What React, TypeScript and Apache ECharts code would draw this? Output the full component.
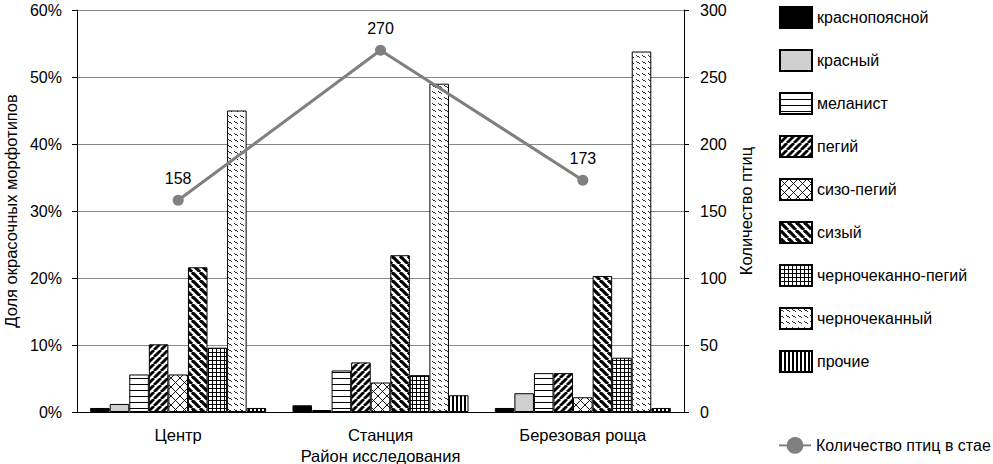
import React, { useEffect, useRef } from "react";
import * as echarts from "echarts";

const categories = ["Центр", "Станция", "Березовая роща"];
const morphNames = [
  "краснопоясной",
  "красный",
  "меланист",
  "пегий",
  "сизо-пегий",
  "сизый",
  "черночеканно-пегий",
  "черночеканный",
  "прочие",
];
const krasnopoyasnoy = [0.6, 1.0, 0.6];
const krasny = [1.2, 0.3, 2.8];
const melanist = [5.6, 6.2, 5.8];
const pegiy = [10.1, 7.4, 5.8];
const sizoPegiy = [5.6, 4.4, 2.2];
const sizy = [21.6, 23.4, 20.3];
const chernochekPegiy = [9.6, 5.5, 8.1];
const chernochek = [45.0, 49.0, 53.8];
const prochie = [0.6, 2.5, 0.6];
const morphValues = [
  krasnopoyasnoy,
  krasny,
  melanist,
  pegiy,
  sizoPegiy,
  sizy,
  chernochekPegiy,
  chernochek,
  prochie,
];
const flockName = "Количество птиц в стае";
const flockSize = [158, 270, 173];

const FONT = "Liberation Sans, Arial, sans-serif";

function makePattern(w: number, h: number, draw: (ctx: CanvasRenderingContext2D) => void) {
  const c = document.createElement("canvas");
  c.width = w;
  c.height = h;
  const ctx = c.getContext("2d") as CanvasRenderingContext2D;
  ctx.fillStyle = "#ffffff";
  ctx.fillRect(0, 0, w, h);
  ctx.fillStyle = "#000000";
  ctx.strokeStyle = "#000000";
  draw(ctx);
  return { image: c, repeat: "repeat", imageWidth: w, imageHeight: h };
}

function buildFills(): any[] {
  const horiz = makePattern(6, 6, (ctx) => ctx.fillRect(0, 0, 6, 1));
  const up = makePattern(7, 7, (ctx) => {
    ctx.lineWidth = 2.8;
    for (let k = -1; k <= 1; k++) {
      ctx.beginPath();
      ctx.moveTo(k * 7, 7);
      ctx.lineTo(k * 7 + 7, 0);
      ctx.stroke();
    }
  });
  const cross = makePattern(9, 9, (ctx) => {
    ctx.lineWidth = 0.9;
    for (let k = -1; k <= 1; k++) {
      ctx.beginPath();
      ctx.moveTo(k * 9, 9);
      ctx.lineTo(k * 9 + 9, 0);
      ctx.stroke();
      ctx.beginPath();
      ctx.moveTo(k * 9, 0);
      ctx.lineTo(k * 9 + 9, 9);
      ctx.stroke();
    }
  });
  const down = makePattern(8, 8, (ctx) => {
    ctx.lineWidth = 3.2;
    for (let k = -1; k <= 1; k++) {
      ctx.beginPath();
      ctx.moveTo(k * 8, 0);
      ctx.lineTo(k * 8 + 8, 8);
      ctx.stroke();
    }
  });
  const grid = makePattern(4, 4, (ctx) => {
    ctx.fillRect(0, 0, 4, 1);
    ctx.fillRect(0, 0, 1, 4);
  });
  const wave = makePattern(6, 6, (ctx) => {
    ctx.fillStyle = "#333333";
    ctx.fillRect(0, 1, 1, 1);
    ctx.fillRect(1, 2, 1, 1);
    ctx.fillRect(2, 2, 1, 1);
    ctx.fillRect(3, 3, 1, 1);
  });
  const vert = makePattern(4, 4, (ctx) => ctx.fillRect(0, 0, 2, 4));
  return ["#000000", "#d0d0d0", horiz, up, cross, down, grid, wave, vert];
}

export default function App() {
  const ref = useRef<HTMLDivElement>(null);
  useEffect(() => {
    if (!ref.current) return;
    const chart = echarts.init(ref.current, undefined, { renderer: "svg" });
    const fills = buildFills();
    const barSeries = morphNames.map((name, i) => ({
      name,
      type: "bar",
      yAxisIndex: 0,
      barGap: "0%",
      barCategoryGap: "13%",
      data: morphValues[i],
      itemStyle: { color: fills[i], borderColor: "#000", borderWidth: 1 },
      emphasis: { disabled: true },
    }));
    chart.setOption({
      animation: false,
      textStyle: { fontFamily: FONT },
      grid: { left: 77, right: 309, top: 10, bottom: 52, outerBoundsMode: "none", containLabel: false },
      legend: [
        {
          data: morphNames,
          orient: "vertical",
          left: 774,
          top: 1,
          itemWidth: 32,
          itemHeight: 21,
          itemGap: 20,
          icon: "rect",
          textStyle: { fontSize: 16, color: "#000", fontFamily: FONT },
          selectedMode: false,
        },
        {
          data: [flockName],
          orient: "vertical",
          left: 773,
          top: 432,
          itemWidth: 32,
          itemHeight: 21,
          textStyle: { fontSize: 16, color: "#000", fontFamily: FONT },
          selectedMode: false,
        },
      ],
      xAxis: {
        type: "category",
        data: categories,
        name: "Район исследования",
        nameLocation: "middle",
        nameGap: 35,
        nameTextStyle: { fontSize: 16.5, color: "#000", fontFamily: FONT },
        axisLine: { lineStyle: { color: "#000", width: 1 } },
        axisTick: { length: 5, lineStyle: { color: "#000" } },
        axisLabel: { fontSize: 16.5, color: "#000", margin: 14, fontFamily: FONT },
      },
      yAxis: [
        {
          type: "value",
          min: 0,
          max: 60,
          interval: 10,
          name: "Доля окрасочных морфотипов",
          nameLocation: "middle",
          nameRotate: 90,
          nameGap: 58,
          nameTextStyle: { fontSize: 16.5, color: "#000", fontFamily: FONT },
          axisLine: { show: true, lineStyle: { color: "#000" } },
          axisTick: { show: true, length: 5, lineStyle: { color: "#000" } },
          axisLabel: { formatter: "{value}%", fontSize: 16, color: "#000", margin: 15, fontFamily: FONT },
          splitLine: { show: true, lineStyle: { color: "#888888", width: 1 } },
        },
        {
          type: "value",
          min: 0,
          max: 300,
          interval: 50,
          name: "Количество птиц",
          nameLocation: "middle",
          nameRotate: 90,
          nameGap: 43,
          nameTextStyle: { fontSize: 16.5, color: "#000", fontFamily: FONT },
          axisLine: { show: true, lineStyle: { color: "#000" } },
          axisTick: { show: true, length: 5, lineStyle: { color: "#000" } },
          axisLabel: { fontSize: 16, color: "#000", margin: 16, fontFamily: FONT },
          splitLine: { show: false },
        },
      ],
      series: [
        ...barSeries,
        {
          name: flockName,
          type: "line",
          yAxisIndex: 1,
          data: flockSize,
          symbol: "circle",
          symbolSize: 11,
          z: 5,
          lineStyle: { color: "#808080", width: 3 },
          itemStyle: { color: "#808080" },
          label: { show: true, position: "top", distance: 8, fontSize: 16, color: "#000", fontFamily: FONT },
          emphasis: { disabled: true },
        },
      ],
    });
    return () => chart.dispose();
  }, []);
  return (
    <div
      ref={ref}
      style={{ position: "fixed", left: 0, top: 0, width: 993, height: 464, background: "#fff" }}
    />
  );
}
